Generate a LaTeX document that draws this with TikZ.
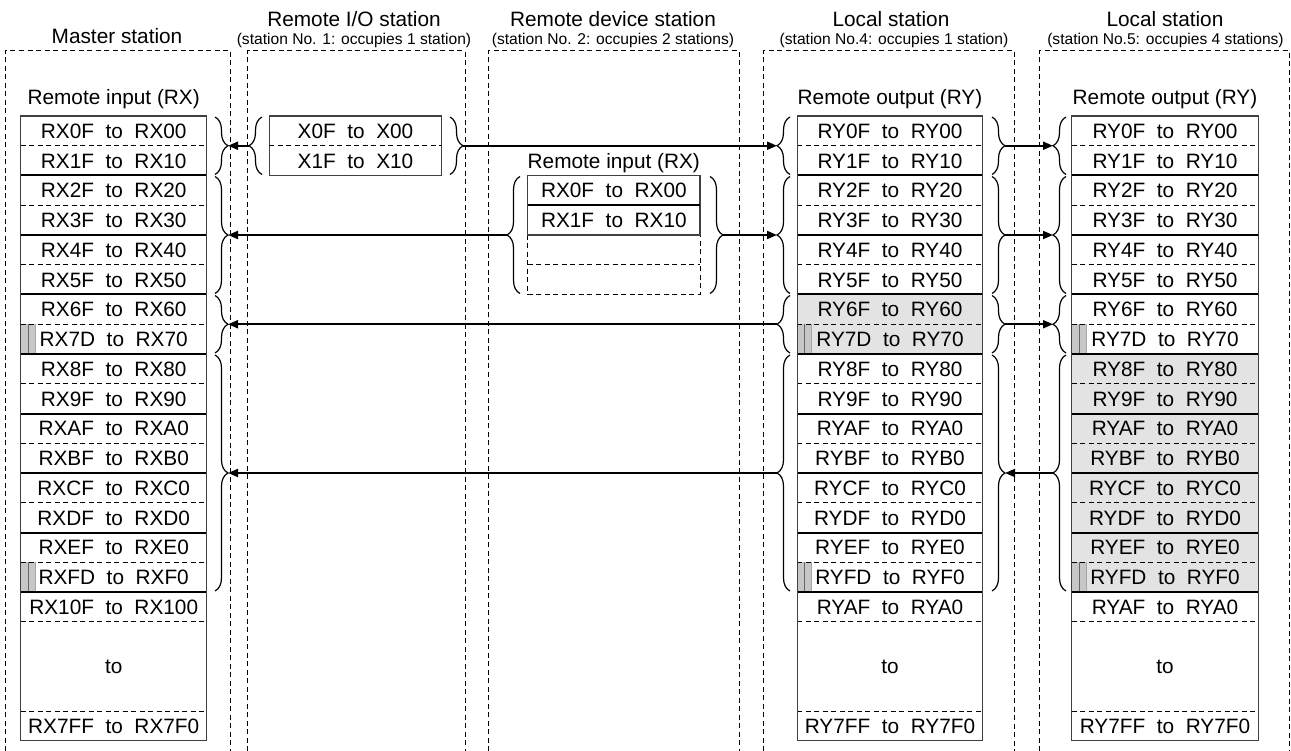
\documentclass[tikz,border=0pt]{standalone}
\usepackage{fontspec}
\setmainfont{Liberation Sans}
\usetikzlibrary{arrows.meta, decorations.pathreplacing}

\begin{document}
\begin{tikzpicture}[
  x=1pt, y=-1pt,
  cell/.style={inner sep=0pt, font=\fontsize{20.8}{25}\selectfont, text height=14.9pt, text depth=0pt},
  note/.style={inner sep=0pt, font=\fontsize{15.6}{19}\selectfont, text height=11.2pt, text depth=0pt},
  stationbox/.style={line width=1pt, dash pattern=on 5pt off 3.5pt},
  tablebox/.style={line width=1.4pt, draw=black!75},
  sepsolid/.style={line width=2pt},
  sepdash/.style={line width=1pt, dash pattern=on 5pt off 3.5pt},
  shade/.style={fill=black!11},
  bar/.style={fill=black!22},
  brace/.style={decorate, decoration={brace, amplitude=13pt}, line width=1.2pt},
  arrow/.style={-{Triangle[length=10pt, width=8pt]}, line width=1.9pt}
]
\useasboundingbox (0,0) rectangle (1291,751);

% ===== Station frames (open at the bottom) =====
\draw[stationbox] (5,751) -- (5,51) -- (230.7,51) -- (230.7,751);
\draw[stationbox] (247.7,751) -- (247.7,51) -- (465,51) -- (465,751);
\draw[stationbox] (488,751) -- (488,51) -- (739.3,51) -- (739.3,751);
\draw[stationbox] (763.3,751) -- (763.3,51) -- (1014.3,51) -- (1014.3,751);
\draw[stationbox] (1039,751) -- (1039,51) -- (1289.3,51) -- (1289.3,751);

% Station titles
\node[cell] (mastertitle) at (117,36.3) {Master station};
\node[cell] (iotitle) at (354,18.7) {Remote I/O station};
\node[note] (ionote) at (354,38.7) {(station No. 1: occupies 1 station)};
\node[cell] (rdtitle) at (613,18.7) {Remote device station};
\node[note] (rdnote) at (613,38.7) {(station No. 2: occupies 2 stations)};
\node[cell] (lofourtitle) at (891,19) {Local station};
\node[note] (lofournote) at (894,38.7) {(station No.4: occupies 1 station)};
\node[cell] (lofivetitle) at (1165,19) {Local station};
\node[note] (lofivenote) at (1165.5,38.7) {(station No.5: occupies 4 stations)};

% Table headers
\node[cell] (mhead) at (113.7,97.5) {Remote input (RX)};
\node[cell] (lofourhead) at (890,97.2) {Remote output (RY)};
\node[cell] (lofivehead) at (1165,97.2) {Remote output (RY)};
\node[cell] (rdhead) at (613.8,161.2) {Remote input (RX)};

% ===== Shaded areas =====
\fill[shade] (797.3,294.5) rectangle (982.7,354);
\fill[shade] (1071.7,354) rectangle (1258.3,592);
\foreach \xl in {20.7, 797.3, 1071.7}
  \foreach \k in {7, 15} {
    \fill[bar] (\xl,{116+\k*29.75}) rectangle ++(14.5,29.75);
    \draw[black!60, line width=1pt] (\xl+7.5,{116+\k*29.75}) -- ++(0,29.75);
    \draw[black!35, line width=0.8pt] (\xl+14.5,{116+\k*29.75}) -- ++(0,29.75);
  }

% ===== Device tables: master, local No.4, local No.5 =====
\foreach \xl/\xr in {20.7/206.7, 797.3/982.7, 1071.7/1258.3} {
  \foreach \k in {1,3,...,15}
    \draw[sepdash] (\xl,{116+\k*29.75}) -- (\xr,{116+\k*29.75});
  \foreach \k in {2,4,...,16}
    \draw[sepsolid] (\xl,{116+\k*29.75}) -- (\xr,{116+\k*29.75});
  \draw[sepdash] (\xl,621.75) -- (\xr,621.75);
  \draw[sepdash] (\xl,711) -- (\xr,711);
  \draw[tablebox] (\xl,116) rectangle (\xr,740.75);
}

\foreach \d/\e [count=\i from 0] in {0/F,1/F,2/F,3/F,4/F,5/F,6/F,7/D,8/F,9/F,A/F,B/F,C/F,D/F,E/F,F/D} {
  \node[cell] (mx\i) at (113.7,{116+(\i+0.5)*29.75}) {RX\d\e\ \ to\ \ RX\d0};
  \node[cell] (lofour\i) at (890,{116+(\i+0.5)*29.75}) {RY\d\e\ \ to\ \ RY\d0};
  \node[cell] (lofive\i) at (1165,{116+(\i+0.5)*29.75}) {RY\d\e\ \ to\ \ RY\d0};
}
\node[cell] (mxsixteen) at (113.7,606.9) {RX10F\ \ to\ \ RX100};
\node[cell] (mxto) at (113.7,666.4) {to};
\node[cell] (mxlast) at (113.7,725.9) {RX7FF\ \ to\ \ RX7F0};
\node[cell] (lofoursixteen) at (890,606.9) {RYAF\ \ to\ \ RYA0};
\node[cell] (lofourto) at (890,666.4) {to};
\node[cell] (lofourlast) at (890,725.9) {RY7FF\ \ to\ \ RY7F0};
\node[cell] (lofivesixteen) at (1165,606.9) {RYAF\ \ to\ \ RYA0};
\node[cell] (lofiveto) at (1165,666.4) {to};
\node[cell] (lofivelast) at (1165,725.9) {RY7FF\ \ to\ \ RY7F0};

% ===== Remote I/O station =====
\draw[tablebox] (269.3,116) rectangle (441.7,175.5);
\draw[sepdash] (269.3,145.75) -- (441.7,145.75);
\node[cell] (io0) at (355.5,130.9) {X0F\ \ to\ \ X00};
\node[cell] (io1) at (355.5,160.6) {X1F\ \ to\ \ X10};

% ===== Remote device station =====
\draw[sepdash] (527.7,235) rectangle (700,294.5);
\draw[sepdash] (527.7,264.75) -- (700,264.75);
\draw[tablebox] (527.7,175.5) rectangle (700,235);
\draw[line width=1.5pt] (527.7,205.25) -- (700,205.25);
\node[cell] (rd0) at (613.85,190.4) {RX0F\ \ to\ \ RX00};
\node[cell] (rd1) at (613.85,220.1) {RX1F\ \ to\ \ RX10};

% ===== Braces =====
\foreach \a/\b [count=\j] in {116/175.5, 175.5/294.5, 294.5/354, 354/592} {
  \draw[brace] (215,{\a+1}) -- (215,{\b-1});
  \coordinate (mtip\j) at (228,{(\a+\b)/2});
  \draw[brace] (790,{\b-1}) -- (790,{\a+1});
  \coordinate (lofourl\j) at (777,{(\a+\b)/2});
  \draw[brace] (992,{\a+1}) -- (992,{\b-1});
  \coordinate (lofourr\j) at (1005,{(\a+\b)/2});
  \draw[brace] (1066,{\b-1}) -- (1066,{\a+1});
  \coordinate (lofivel\j) at (1053,{(\a+\b)/2});
}
\draw[brace] (262,174.5) -- (262,117);
\coordinate (iotipl) at (249,145.75);
\draw[brace] (450,117) -- (450,174.5);
\coordinate (iotipr) at (463,145.75);
\draw[brace] (520,293.5) -- (520,176.5);
\coordinate (rdtipl) at (507,235);
\draw[brace] (710,176.5) -- (710,293.5);
\coordinate (rdtipr) at (723,235);

% ===== Arrows =====
\draw[arrow] (iotipl) -- (mtip1);
\draw[arrow] (iotipr) -- (lofourl1);
\draw[arrow] (rdtipl) -- (mtip2);
\draw[arrow] (rdtipr) -- (lofourl2);
\draw[arrow] (lofourl3) -- (mtip3);
\draw[arrow] (lofourl4) -- (mtip4);
\draw[arrow] (lofourr1) -- (lofivel1);
\draw[arrow] (lofourr2) -- (lofivel2);
\draw[arrow] (lofourr3) -- (lofivel3);
\draw[arrow] (lofivel4) -- (lofourr4);

\end{tikzpicture}
\end{document}
